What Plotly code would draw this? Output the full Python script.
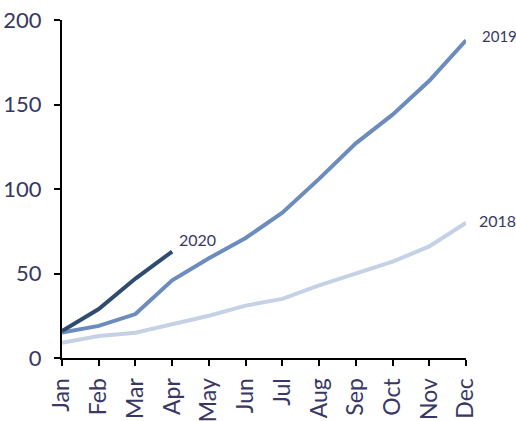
import plotly.graph_objects as go

months = ["Jan", "Feb", "Mar", "Apr", "May", "Jun", "Jul", "Aug", "Sep", "Oct", "Nov", "Dec"]
s2018 = [9, 13, 15, 20, 25, 31, 35, 43, 50, 57, 66, 80]
s2019 = [15, 19, 26, 46, 59, 71, 86, 106, 127, 144, 164, 188]
s2020 = [16, 29, 47, 63]
y_ticks = [0, 50, 100, 150, 200]

c2018 = "#c5d2e5"
c2019 = "#6b8cbd"
c2020 = "#2f4b70"
txt = "#393864"
font_family = "Lato, sans-serif"

fig = go.Figure()
fig.add_trace(go.Scatter(x=months, y=s2018, mode="lines", line=dict(color=c2018, width=4), cliponaxis=False))
fig.add_trace(go.Scatter(x=months, y=s2019, mode="lines", line=dict(color=c2019, width=4), cliponaxis=False))
fig.add_trace(go.Scatter(x=months[:4], y=s2020, mode="lines", line=dict(color=c2020, width=4), cliponaxis=False))

fig.add_annotation(x=months[3], y=s2020[-1], text="2020", showarrow=False, xanchor="left", xshift=5, yshift=12,
                   font=dict(size=16, color=txt, family=font_family))
fig.add_annotation(x=months[-1], y=s2019[-1], text="2019", showarrow=False, xanchor="left", xshift=14, yshift=4,
                   font=dict(size=15, color=txt, family=font_family))
fig.add_annotation(x=months[-1], y=s2018[-1], text="2018", showarrow=False, xanchor="left", xshift=11, yshift=2,
                   font=dict(size=16, color=txt, family=font_family))

fig.update_layout(
    width=516, height=421,
    margin=dict(l=62, r=50, t=20, b=63),
    plot_bgcolor="white", paper_bgcolor="white",
    showlegend=False,
    font=dict(family=font_family, color=txt),
)
fig.update_xaxes(type="category", range=[0, 11], showline=True, linecolor="black", linewidth=2,
                 ticks="outside", ticklen=6, tickwidth=2, tickcolor="black", tickangle=-90, automargin=False,
                 ticklabelstandoff=3,
                 tickfont=dict(size=23, color=txt, family=font_family), showgrid=False, zeroline=False)
fig.update_yaxes(range=[0, 200], tickvals=y_ticks, showline=True, linecolor="black", linewidth=2,
                 ticks="outside", ticklen=6, tickwidth=2, tickcolor="black", ticklabelstandoff=8, automargin=False,
                 tickfont=dict(size=22, color=txt, family=font_family), showgrid=False, zeroline=False)

fig.write_html("out.html")
